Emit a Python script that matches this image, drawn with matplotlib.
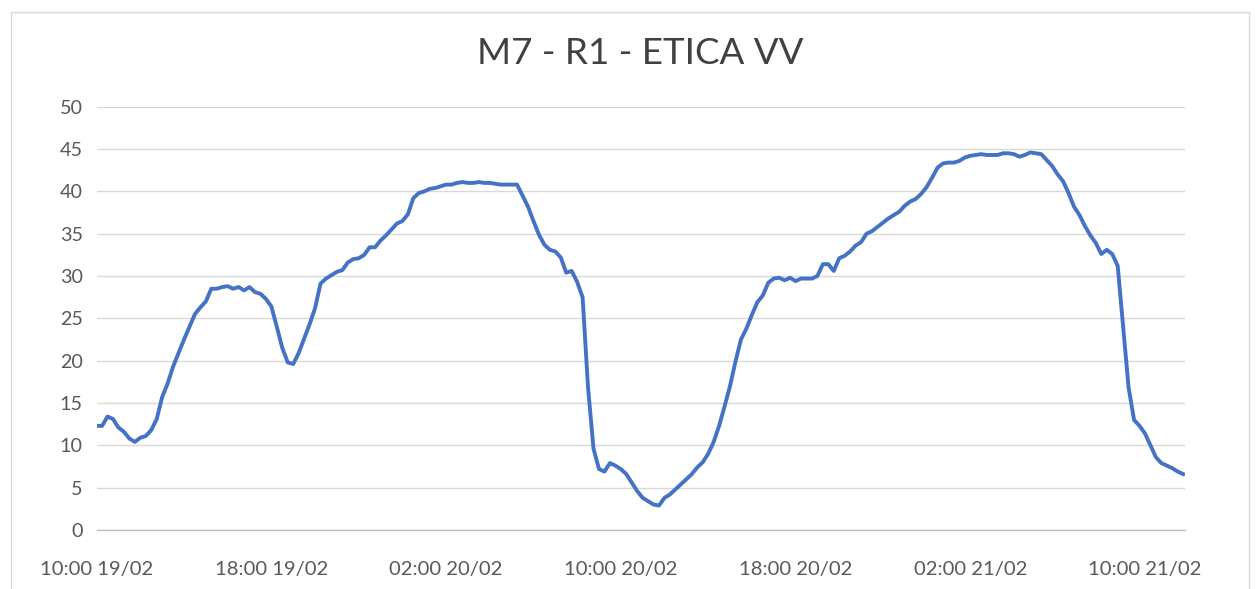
"""
plot.py - M7 - R1 - ETICA VV, one 15-min series over two days.
"""
import matplotlib
matplotlib.use("Agg")
import matplotlib.pyplot as plt
import matplotlib.dates as mdates
from matplotlib.patches import Rectangle
import pandas as pd

TITLE = "M7 - R1 - ETICA VV"

START  = "2021-02-19 10:00"
FREQ   = "15min"

VALUES = [
    12.3, 12.3, 13.4, 13.1, 12.1, 11.6, 10.8, 10.4, 10.9, 11.1,
    11.8, 13.1, 15.7, 17.3, 19.3, 20.9, 22.5, 24.0, 25.5, 26.3,
    27.0, 28.5, 28.5, 28.7, 28.8, 28.5, 28.7, 28.3, 28.7, 28.1,
    27.9, 27.3, 26.4, 24.0, 21.5, 19.8, 19.6, 20.9, 22.6, 24.3,
    26.2, 29.1, 29.7, 30.1, 30.5, 30.7, 31.6, 32.0, 32.1, 32.5,
    33.4, 33.4, 34.2, 34.8, 35.5, 36.2, 36.5, 37.3, 39.2, 39.8,
    40.0, 40.3, 40.4, 40.6, 40.8, 40.8, 41.0, 41.1, 41.0, 41.0,
    41.1, 41.0, 41.0, 40.9, 40.8, 40.8, 40.8, 40.8, 39.5, 38.2,
    36.5, 34.9, 33.7, 33.1, 32.9, 32.2, 30.4, 30.6, 29.3, 27.5,
    16.8, 9.6, 7.2, 6.9, 7.9, 7.6, 7.2, 6.6, 5.6, 4.6,
    3.8, 3.4, 3.0, 2.9, 3.8, 4.2, 4.8, 5.4, 6.0, 6.6,
    7.4, 8.0, 9.0, 10.4, 12.3, 14.6, 17.0, 19.9, 22.5, 23.8,
    25.4, 26.9, 27.7, 29.2, 29.7, 29.8, 29.5, 29.8, 29.4, 29.7,
    29.7, 29.7, 30.0, 31.4, 31.4, 30.6, 32.1, 32.4, 32.9, 33.6,
    34.0, 35.0, 35.3, 35.8, 36.3, 36.8, 37.2, 37.6, 38.3, 38.8,
    39.1, 39.7, 40.5, 41.6, 42.8, 43.3, 43.4, 43.4, 43.6, 44.0,
    44.2, 44.3, 44.4, 44.3, 44.3, 44.3, 44.5, 44.5, 44.4, 44.1,
    44.3, 44.6, 44.5, 44.4, 43.7, 43.0, 42.0, 41.2, 39.8, 38.2,
    37.2, 35.9, 34.8, 33.9, 32.6, 33.1, 32.6, 31.2, 24.0, 16.8,
    13.0, 12.3, 11.4, 10.0, 8.6, 7.9, 7.6, 7.3, 6.9, 6.6,
]

Y_TICKS = list(range(0, 51, 5))

LINE_COLOR  = "#4472C4"
GRID_COLOR  = "#d9d9d9"
TEXT_COLOR  = "#595959"
TITLE_COLOR = "#404040"

plt.rcParams["font.family"] = ["Lato", "DejaVu Sans"]

times = pd.date_range(START, periods=len(VALUES), freq=FREQ)

fig = plt.figure(figsize=(12.6, 5.89), dpi=100)
ax = fig.add_axes([0.0767, 0.1002, 0.9405 - 0.0767, 0.8188 - 0.1002])

ax.plot(times, VALUES, color=LINE_COLOR, linewidth=2.8, solid_joinstyle="round")

ax.set_xlim(times[0], times[-1] + pd.Timedelta(minutes=5))
ax.set_ylim(0, 50)
ax.set_yticks(Y_TICKS)
ax.xaxis.set_major_locator(mdates.HourLocator(byhour=[2, 10, 18]))
ax.xaxis.set_major_formatter(mdates.DateFormatter("%H:%M %d/%m"))

ax.grid(axis="y", color=GRID_COLOR, linewidth=1.0)
ax.set_axisbelow(True)
for side in ("left", "right", "top"):
    ax.spines[side].set_visible(False)
ax.spines["bottom"].set_color("#bfbfbf")
ax.spines["bottom"].set_linewidth(1.0)
ax.tick_params(axis="x", length=0, labelsize=14.6, labelcolor=TEXT_COLOR, pad=22)
ax.tick_params(axis="y", length=0, labelsize=14.2, labelcolor=TEXT_COLOR, pad=10)

fig.text(0.508, 0.91, TITLE, ha="center", va="center", fontsize=26.5, color=TITLE_COLOR)

# chart area border (bottom edge falls outside the image)
fig.patches.append(Rectangle((11 / 1260, -0.05), (1249 - 11) / 1260, 1.05 - 12 / 589,
                             transform=fig.transFigure, fill=False,
                             edgecolor=GRID_COLOR, linewidth=1.0))

fig.savefig("out.png", dpi=100)
plt.close(fig)
